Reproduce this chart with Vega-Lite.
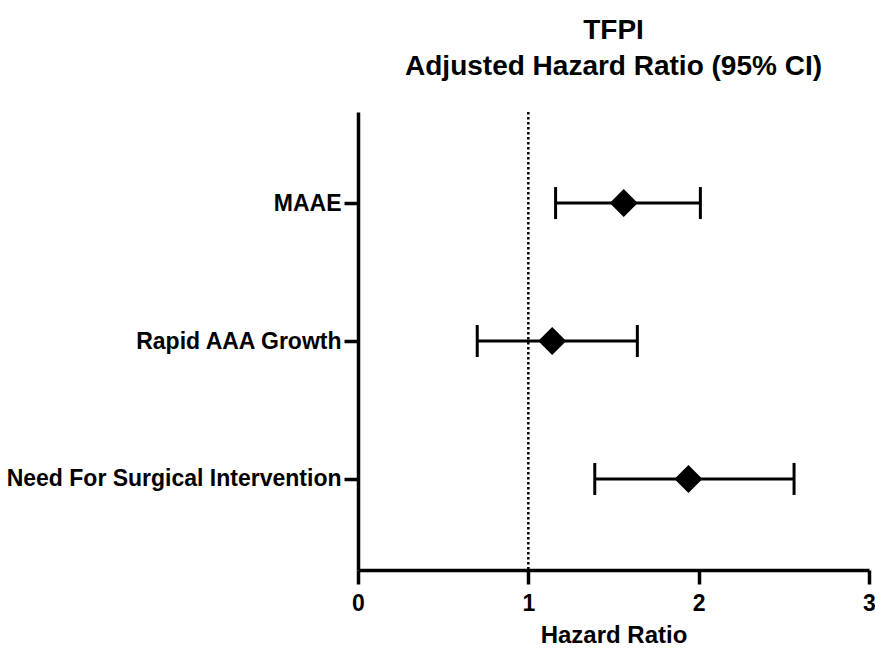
{
  "$schema": "https://vega.github.io/schema/vega-lite/v6.json",
  "autosize": {"type": "none"},
  "padding": {"left": 358, "top": 112, "right": 6, "bottom": 78},
  "width": 511,
  "height": 458,
  "background": "white",
  "title": {
    "text": ["TFPI", "Adjusted Hazard Ratio (95% CI)"],
    "font": "Liberation Sans",
    "fontSize": 28,
    "fontWeight": "bold",
    "color": "black",
    "anchor": "middle",
    "lineHeight": 36,
    "offset": 30
  },
  "data": {
    "values": [
      {"outcome": "MAAE", "hr": 1.56, "lo": 1.16, "hi": 2.01},
      {"outcome": "Rapid AAA Growth", "hr": 1.14, "lo": 0.70, "hi": 1.64},
      {"outcome": "Need For Surgical Intervention", "hr": 1.94, "lo": 1.39, "hi": 2.56}
    ]
  },
  "encoding": {
    "y": {
      "field": "outcome",
      "type": "nominal",
      "sort": ["MAAE", "Rapid AAA Growth", "Need For Surgical Intervention"],
      "scale": {"type": "point", "padding": 0.66},
      "axis": {"title": null, "labelPadding": 3, "labelLimit": 400}
    }
  },
  "layer": [
    {
      "data": {"values": [{"ref": 1}]},
      "mark": {"type": "rule", "color": "black", "strokeWidth": 2.5, "strokeDash": [2.5, 2.5]},
      "encoding": {
        "x": {"field": "ref", "type": "quantitative", "scale": {"domain": [0, 3], "nice": false}},
        "y": null
      }
    },
    {
      "mark": {"type": "rule", "color": "black", "strokeWidth": 3, "opacity": 1},
      "encoding": {
        "x": {
          "field": "lo",
          "type": "quantitative",
          "scale": {"domain": [0, 3], "nice": false},
          "axis": {"values": [0, 1, 2, 3], "format": "d", "labelFlush": false, "title": "Hazard Ratio", "labelPadding": 8, "titlePadding": 8}
        },
        "x2": {"field": "hi"}
      }
    },
    {
      "mark": {"type": "tick", "orient": "vertical", "color": "black", "opacity": 1, "size": 32, "thickness": 3},
      "encoding": {"x": {"field": "lo", "type": "quantitative"}}
    },
    {
      "mark": {"type": "tick", "orient": "vertical", "color": "black", "opacity": 1, "size": 32, "thickness": 3},
      "encoding": {"x": {"field": "hi", "type": "quantitative"}}
    },
    {
      "mark": {"type": "point", "shape": "diamond", "filled": true, "color": "black", "opacity": 1, "size": 784},
      "encoding": {"x": {"field": "hr", "type": "quantitative"}}
    }
  ],
  "config": {
    "view": {"stroke": null},
    "axis": {
      "grid": false,
      "domainColor": "black",
      "domainWidth": 3.5,
      "tickColor": "black",
      "tickWidth": 3.5,
      "tickSize": 14,
      "labelFont": "Liberation Sans",
      "labelFontWeight": "bold",
      "labelFontSize": 23,
      "labelColor": "black",
      "titleFont": "Liberation Sans",
      "titleFontWeight": "bold",
      "titleFontSize": 24,
      "titleColor": "black"
    }
  }
}
